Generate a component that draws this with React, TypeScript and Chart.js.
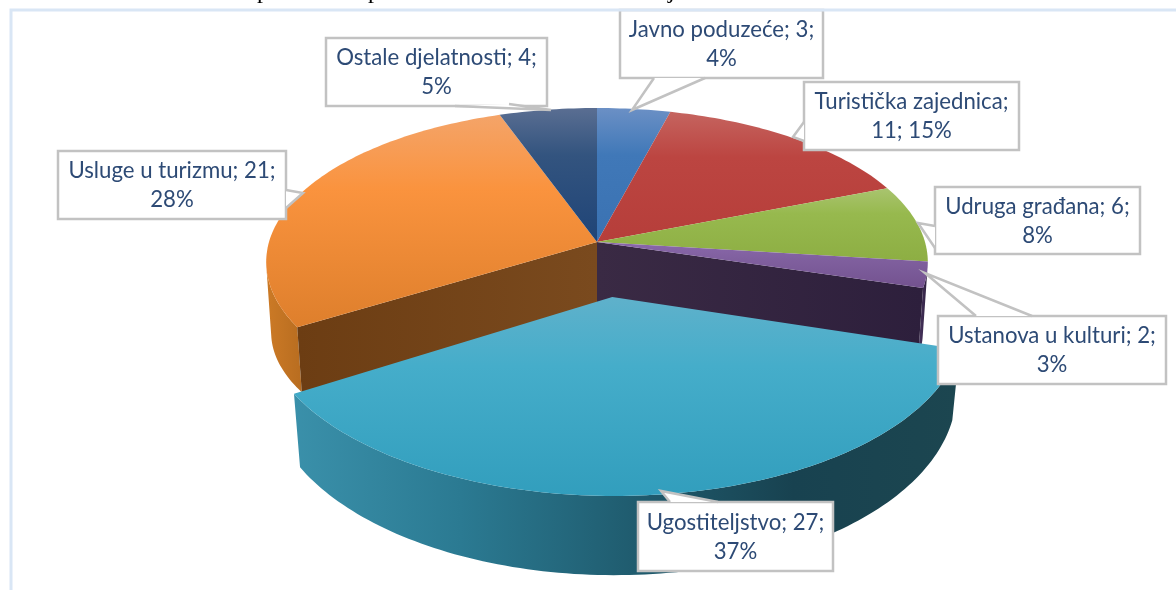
import React, { useEffect, useRef } from "react";
import { Chart, registerables } from "chart.js";

Chart.register(...registerables);

const categories = ["Javno poduzeće", "Turistička zajednica", "Udruga građana", "Ustanova u kulturi", "Ugostiteljstvo", "Usluge u turizmu", "Ostale djelatnosti"];
const counts = [3, 11, 6, 2, 27, 21, 4];
const percents = ["4%", "15%", "8%", "3%", "37%", "28%", "5%"];
const explodeOffsets = [0, 0, 0, 0, 0.35, 0, 0];
const labelLines = [
  ["Javno poduzeće; 3;", "4%"],
  ["Turistička zajednica;", "11; 15%"],
  ["Udruga građana; 6;", "8%"],
  ["Ustanova u kulturi; 2;", "3%"],
  ["Ugostiteljstvo; 27;", "37%"],
  ["Usluge u turizmu; 21;", "28%"],
  ["Ostale djelatnosti; 4;", "5%"],
];
const clippedTitleGlyphs = ["p", "p", "j"];
const clippedTitleX = [257, 368, 668];
const baseColors = ["#4f81bd", "#c0504d", "#9bbb59", "#8064a2", "#4bacc6", "#f79646", "#2c4d75"];
const faceStops = [
  ["#6b90c5", "#4078b8", "#3a72b2"],
  ["#c5645f", "#bc4541", "#b63e3a"],
  ["#a9c46f", "#97b94e", "#8dae43"],
  ["#8a68ab", "#80609f", "#73528f"],
  ["#5fb1cb", "#45adca", "#329ebd"],
  ["#f4a469", "#fa933e", "#de7f2c"],
  ["#5a6e92", "#33547f", "#1f4477"],
];
const wallStops = [
  ["#3a6aa0", "#25456e"],
  ["#a03c39", "#6e2624"],
  ["#7d9a3e", "#56692a"],
  ["#4a3560", "#2e2040"],
  ["#3a90aa", "#2b7a92", "#205d70", "#184250", "#1c4650"],
  ["#cc7a26", "#b86d20"],
  ["#274668", "#182c44"],
];
// Callout boxes: [left, top, right, bottom], tail polygon base/tip points
const boxes = [
  [620, 10, 823, 78],
  [804, 82, 1019, 150],
  [935, 187, 1140, 254],
  [938, 316, 1166, 384],
  [638, 502, 833, 571],
  [58, 151, 286, 219],
  [326, 38, 547, 106],
];
const tails = [
  [[654, 78], [632, 110], [705, 78]],
  [[804, 122], [793, 137], [804, 141]],
  [[935, 226], [918, 223], [935, 248]],
  [[976, 316], [925, 273], [1032, 316]],
  [[670, 502], [661, 491], [718, 502]],
  [[286, 190], [303, 193], [286, 208]],
  [[455, 106], [551, 110], [509, 104]],
];

// projective view of the pie plane
const CX = 597, CY = 242, AX = 328, BY = 151.4, K = 0.13, SIDE = 0.15;
const BLUE = "#d9e6f5";

function top(u: number, v: number) {
  const w = 1 - K * v;
  return [CX + (AX * u) / w, CY + (BY * v) / w];
}
function bottomFixed(u: number, v: number) {
  const w = 1 - K * v;
  return [CX + ((AX * u) / w) * 0.985, CY + 72 + (139 * v) / w];
}
function bottomMoved(u: number, v: number) {
  const w = 1 - K * v;
  return [CX + ((AX * u) / w) * 0.98, CY + (BY * v) / w + 65 / w];
}
function arcPts(fn: (u: number, v: number) => number[], a0: number, a1: number, ox: number, oy: number, ru: number, rv: number) {
  const pts: number[][] = [];
  const n = Math.max(2, Math.ceil(Math.abs(a1 - a0) / 0.02));
  for (let i = 0; i <= n; i++) {
    const a = a0 + ((a1 - a0) * i) / n;
    pts.push(fn(Math.cos(a) * ru + ox, Math.sin(a) * rv + oy));
  }
  return pts;
}
function poly(ctx: CanvasRenderingContext2D, pts: number[][]) {
  ctx.beginPath();
  pts.forEach((p, i) => (i ? ctx.lineTo(p[0], p[1]) : ctx.moveTo(p[0], p[1])));
  ctx.closePath();
}

const pie3d = {
  id: "pie3d",
  beforeDraw(chart: any) {
    const ctx = chart.ctx as CanvasRenderingContext2D;
    ctx.save();
    ctx.fillStyle = "#ffffff";
    ctx.fillRect(0, 0, chart.width, chart.height);
    ctx.fillStyle = "#000000";
    ctx.font = "24px 'Liberation Serif'";
    ctx.textAlign = "left";
    ctx.textBaseline = "alphabetic";
    clippedTitleGlyphs.forEach((g, i) => ctx.fillText(g, clippedTitleX[i], -2));
    ctx.restore();
  },
  beforeDatasetDraw(chart: any) {
    const ctx = chart.ctx as CanvasRenderingContext2D;
    const arcs = chart.getDatasetMeta(0).data as any[];
    const geo = arcs.map((arc, i) => {
      const mid = (arc.startAngle + arc.endAngle) / 2;
      const d = explodeOffsets[i];
      return {
        a0: arc.startAngle,
        a1: arc.endAngle,
        ox: d * Math.cos(mid),
        oy: d * Math.sin(mid),
        d,
        ru: d ? 1.012 : 1,
        rv: d ? 1.03 : 1,
        bottom: d ? bottomMoved : bottomFixed,
      };
    });
    const fillWall = (stops: string[], pts: number[][], x0: number, x1: number) => {
      const g = ctx.createLinearGradient(x0, 0, x1, 0);
      stops.forEach((c, k) => g.addColorStop(k / (stops.length - 1), c));
      ctx.fillStyle = g;
      poly(ctx, pts);
      ctx.fill();
    };
    const outerWall = (i: number) => {
      const { a0, a1, ox, oy, ru, rv, bottom } = geo[i];
      const s = Math.max(a0, SIDE);
      const e = Math.min(a1, Math.PI - SIDE);
      if (s >= e) return;
      const upper = arcPts(top, s, e, ox, oy, ru, rv);
      const lower = arcPts(bottom, e, s, ox, oy, ru, rv);
      const xs = upper.concat(lower).map((pt) => pt[0]);
      fillWall(wallStops[i], upper.concat(lower), Math.min(...xs), Math.max(...xs));
    };
    const radialWall = (i: number, a: number, c0: string, c1: string) => {
      const { ox, oy, bottom } = geo[i];
      const ca = Math.cos(a) + ox;
      const sa = Math.sin(a) + oy;
      const pts = [top(ox, oy), top(ca, sa), bottom(ca, sa), bottom(ox, oy)];
      const x0 = Math.min(pts[0][0], pts[1][0]);
      const x1 = Math.max(pts[0][0], pts[1][0]);
      fillWall([c0, c1], pts, x0, x1);
    };
    const face = (i: number) => {
      const { a0, a1, ox, oy, ru, rv } = geo[i];
      const pts = [top(ox, oy), ...arcPts(top, a0, a1, ox, oy, ru, rv)];
      const ys = pts.map((p) => p[1]);
      const g = ctx.createLinearGradient(0, Math.min(...ys), 0, Math.max(...ys));
      g.addColorStop(0, faceStops[i][0]);
      g.addColorStop(0.35, faceStops[i][1]);
      g.addColorStop(1, faceStops[i][2]);
      ctx.fillStyle = g;
      poly(ctx, pts);
      ctx.fill();
    };
    ctx.save();
    const fixed = arcs.map((_, i) => i).filter((i) => !geo[i].d);
    const moved = arcs.map((_, i) => i).filter((i) => geo[i].d);
    fixed.forEach(outerWall);
    moved.forEach((m) => {
      const before = (m - 1 + arcs.length) % arcs.length;
      const after = (m + 1) % arcs.length;
      radialWall(before, geo[before].a1, "#3a2a44", "#2d1f3c");
      radialWall(after, geo[after].a0, "#6c3d13", "#7a4a1e");
    });
    fixed.forEach(face);
    moved.forEach((m) => {
      outerWall(m);
      face(m);
    });
    ctx.restore();
    return false;
  },
  afterDatasetsDraw(chart: any) {
    const ctx = chart.ctx as CanvasRenderingContext2D;
    ctx.save();
    categories.forEach((_, i) => {
      const [l, t, r, b] = boxes[i];
      const tail = tails[i];
      ctx.fillStyle = "#ffffff";
      ctx.strokeStyle = "#c2c2c2";
      ctx.lineWidth = 2.5;
      ctx.beginPath();
      ctx.rect(l, t, r - l, b - t);
      ctx.fill();
      ctx.stroke();
      ctx.beginPath();
      ctx.moveTo(tail[0][0], tail[0][1]);
      ctx.lineTo(tail[1][0], tail[1][1]);
      ctx.lineTo(tail[2][0], tail[2][1]);
      ctx.closePath();
      ctx.fill();
      ctx.beginPath();
      ctx.moveTo(tail[0][0], tail[0][1]);
      ctx.lineTo(tail[1][0], tail[1][1]);
      ctx.lineTo(tail[2][0], tail[2][1]);
      ctx.stroke();
      ctx.fillStyle = "#2d4a75";
      ctx.font = "22.2px Lato";
      ctx.textAlign = "center";
      ctx.textBaseline = "middle";
      const mx = (l + r) / 2;
      const my = (t + b) / 2;
      ctx.fillText(labelLines[i][0], mx, my - 14);
      ctx.fillText(labelLines[i][1], mx, my + 15);
    });
    ctx.strokeStyle = BLUE;
    ctx.lineWidth = 3;
    ctx.beginPath();
    ctx.moveTo(11, chart.height + 2);
    ctx.lineTo(11, 10);
    ctx.lineTo(chart.width + 2, 10);
    ctx.stroke();
    ctx.restore();
  },
};

export default function App() {
  const ref = useRef<HTMLCanvasElement>(null);
  useEffect(() => {
    const chart = new Chart(ref.current!, {
      type: "pie",
      data: {
        labels: categories.map((c, i) => `${c}; ${counts[i]}; ${percents[i]}`),
        datasets: [{ data: counts, backgroundColor: baseColors, borderWidth: 0 }],
      },
      options: {
        animation: false,
        responsive: false,
        layout: { padding: 0 },
        plugins: { legend: { display: false }, tooltip: { enabled: false } },
      },
      plugins: [pie3d],
    });
    return () => chart.destroy();
  }, []);
  return (
    <div style={{ position: "fixed", left: 0, top: 0, width: 1176, height: 590, background: "#fff" }}>
      <canvas ref={ref} width={1176} height={590} style={{ display: "block" }} />
    </div>
  );
}
